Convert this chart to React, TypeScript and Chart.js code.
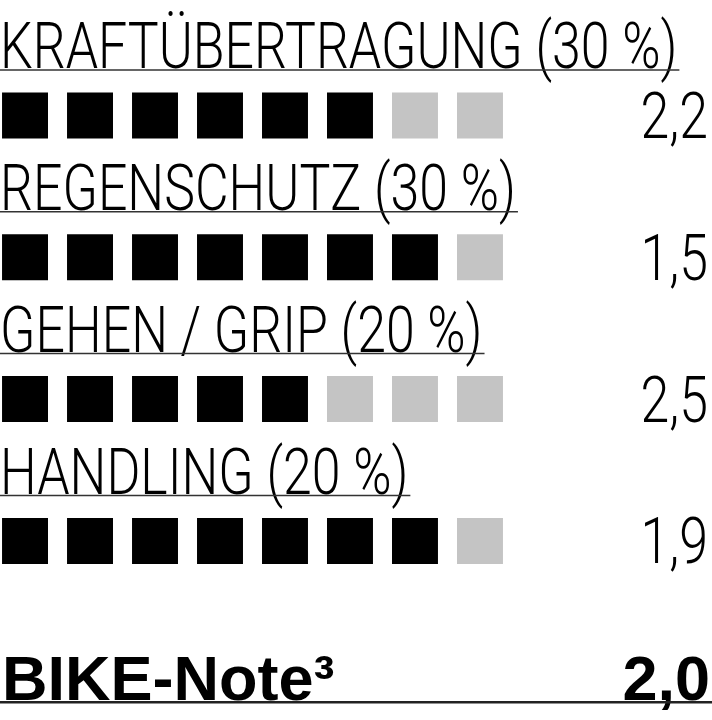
import { useEffect, useRef } from 'react';
import { Chart, ChartConfiguration, Plugin } from 'chart.js/auto';

const categories = ['KRAFTÜBERTRAGUNG', 'REGENSCHUTZ', 'GEHEN / GRIP', 'HANDLING'];
const weights = [30, 30, 20, 20];
const filledBoxes = [6, 7, 5, 7];
const totalBoxes = 8;
const scores = ['2,2', '1,5', '2,5', '1,9'];
const finalLabel = 'BIKE-Note³';
const finalScore = '2,0';

const LIGHT_FONT = '300 64px Roboto, "Liberation Sans", sans-serif';
const BOLD_FONT = 'bold 63px "Liberation Sans", Arial, sans-serif';
const CONDENSE = 0.81;

// draws horizontally squeezed text, returns the drawn width
function condensedText(ctx: CanvasRenderingContext2D, text: string, x: number, y: number, align: CanvasTextAlign) {
  ctx.save();
  ctx.translate(x, y);
  ctx.scale(CONDENSE, 1);
  ctx.textAlign = align;
  ctx.fillText(text, 0, 0);
  const w = ctx.measureText(text).width * CONDENSE;
  ctx.restore();
  return w;
}

const labelsPlugin: Plugin = {
  id: 'ratingLabels',
  afterDatasetsDraw(chart) {
    const { ctx, chartArea } = chart;
    const yScale = chart.scales.y;
    ctx.save();
    ctx.fillStyle = '#000';
    ctx.textBaseline = 'alphabetic';
    ctx.font = LIGHT_FONT;

    categories.forEach((name, i) => {
      const cy = yScale.getPixelForValue(i);
      const w = condensedText(ctx, `${name} (${weights[i]} %)`, 0, cy - 47, 'left');
      ctx.strokeStyle = '#333';
      ctx.lineWidth = 1.5;
      ctx.beginPath();
      ctx.moveTo(0, cy - 45.5);
      ctx.lineTo(w + 2, cy - 45.5);
      ctx.stroke();
      condensedText(ctx, scores[i], chartArea.right - 4, cy + 22.5, 'right');
    });

    const fy = yScale.getPixelForValue(categories.length);
    ctx.font = BOLD_FONT;
    ctx.textAlign = 'left';
    ctx.fillText(finalLabel, 2, fy + 17);
    ctx.textAlign = 'right';
    ctx.fillText(finalScore, chartArea.right - 2, fy + 17);
    ctx.strokeStyle = '#222';
    ctx.lineWidth = 2.5;
    ctx.beginPath();
    ctx.moveTo(0, fy + 19.5);
    ctx.lineTo(chartArea.right, fy + 19.5);
    ctx.stroke();
    ctx.restore();
  },
};

export default function App() {
  const chartRef = useRef<HTMLCanvasElement>(null);
  const chartInstanceRef = useRef<Chart | null>(null);

  useEffect(() => {
    if (!chartRef.current) return;
    const ctx = chartRef.current.getContext('2d');
    if (!ctx) return;
    if (chartInstanceRef.current) {
      chartInstanceRef.current.destroy();
    }

    const points: { x: number; y: number }[] = [];
    const colors: string[] = [];
    categories.forEach((_, i) => {
      for (let j = 0; j < totalBoxes; j++) {
        points.push({ x: j + 1, y: i });
        colors.push(j < filledBoxes[i] ? '#000000' : '#c4c4c4');
      }
    });

    const chartConfig: ChartConfiguration<'scatter'> = {
      type: 'scatter',
      data: {
        datasets: [{
          data: points,
          backgroundColor: colors,
          borderWidth: 0,
          pointStyle: 'rect',
          pointRadius: 32.5,
          pointHoverRadius: 32.5,
        }],
      },
      options: {
        animation: false,
        responsive: true,
        maintainAspectRatio: false,
        events: [],
        layout: { padding: 0, autoPadding: false },
        scales: {
          x: { type: 'linear', display: false, min: 0.615, max: 11.57 },
          y: { type: 'linear', display: false, reverse: true, min: -0.8145, max: 4.263 },
        },
        plugins: {
          legend: { display: false },
          tooltip: { enabled: false },
        },
      },
      plugins: [labelsPlugin],
    };

    chartInstanceRef.current = new Chart(ctx, chartConfig);

    return () => {
      if (chartInstanceRef.current) {
        chartInstanceRef.current.destroy();
        chartInstanceRef.current = null;
      }
    };
  }, []);

  return (
    <div style={{ position: 'fixed', left: 0, top: 0, width: 712, height: 720, background: '#fff' }}>
      <canvas ref={chartRef} />
    </div>
  );
}
